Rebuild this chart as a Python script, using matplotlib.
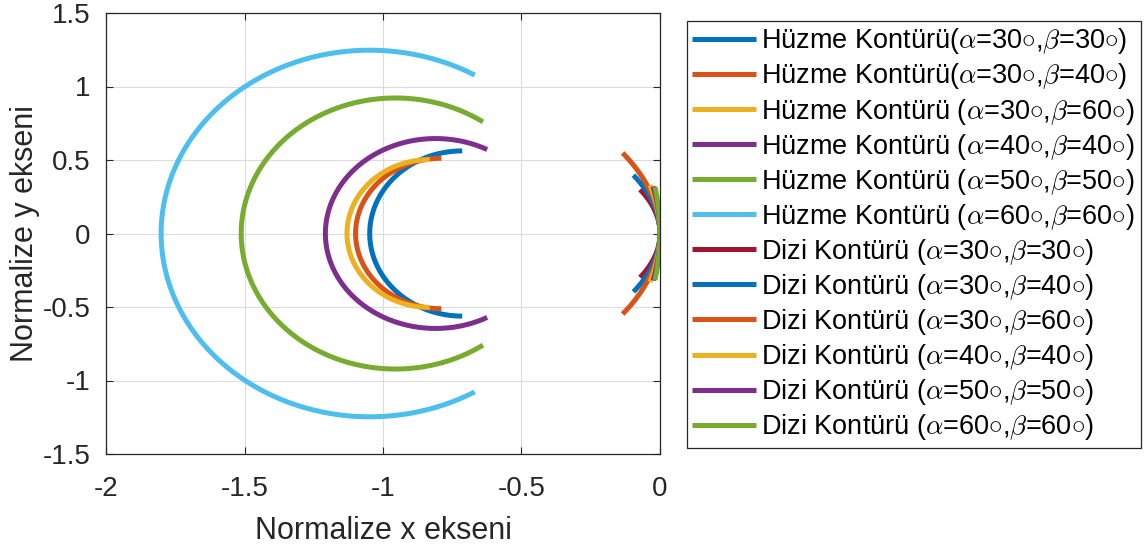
import numpy as np
import matplotlib
matplotlib.use("Agg")
import matplotlib.pyplot as plt

plt.rcParams["font.family"] = ["Liberation Sans", "DejaVu Sans"]
plt.rcParams["mathtext.fontset"] = "cm"
plt.rcParams["axes.unicode_minus"] = False

# beam contours (left half of an ellipse): center x, semi-axes, x where the arc ends
beam_angles = [(30, 30), (30, 40), (30, 60), (40, 40), (50, 50), (60, 60)]
beam_cx = [-0.714, -0.789, -0.831, -0.810, -0.955, -1.048]
beam_a = [0.334, 0.310, 0.299, 0.398, 0.557, 0.753]
beam_b = [0.562, 0.512, 0.503, 0.646, 0.922, 1.247]
beam_xend = [-0.714, -0.789, -0.831, -0.624, -0.639, -0.669]

# array contours (small arcs touching x=0): radius, y where the arc ends
array_angles = [(30, 30), (30, 40), (30, 60), (40, 40), (50, 50), (60, 60)]
array_r = [0.657, 0.869, 1.18, 1.52, 2.06, 2.8]
array_yend = [0.299, 0.397, 0.548, 0.329, 0.320, 0.317]

beam_colors = ["#0072BD", "#D95319", "#EDB120", "#7E2F8E", "#77AC30", "#4DBEEE"]
array_colors = ["#A2142F", "#0072BD", "#D95319", "#EDB120", "#7E2F8E", "#77AC30"]


def ang_text(a, b, gap):
    sep = " (" if gap else "("
    deg = r"${\circ}$"
    return sep + r"$\alpha$=" + f"{a}" + deg + r",$\beta$=" + f"{b}" + deg + ")"


fig = plt.figure(figsize=(11.48, 5.54), dpi=100)
ax = fig.add_axes([106 / 1148, 100 / 554, 554 / 1148, 441 / 554])

for i, (al, be) in enumerate(beam_angles):
    t0 = np.arccos(np.clip((beam_xend[i] - beam_cx[i]) / beam_a[i], -1, 1))
    t = np.linspace(t0, 2 * np.pi - t0, 300)
    ax.plot(beam_cx[i] + beam_a[i] * np.cos(t), beam_b[i] * np.sin(t),
            color=beam_colors[i], lw=3.6, solid_capstyle="butt",
            label="Hüzme Kontürü" + ang_text(al, be, i >= 2))

for i, (al, be) in enumerate(array_angles):
    te = np.arcsin(array_yend[i] / array_r[i])
    t = np.linspace(-te, te, 200)
    ax.plot(-array_r[i] + array_r[i] * np.cos(t), array_r[i] * np.sin(t),
            color=array_colors[i], lw=3.6, solid_capstyle="butt",
            label="Dizi Kontürü" + ang_text(al, be, True))

ax.set_xlim(-2, 0)
ax.set_ylim(-1.5, 1.5)
ax.set_xticks([-2, -1.5, -1, -0.5, 0])
ax.set_xticklabels(["-2", "-1.5", "-1", "-0.5", "0"])
ax.set_yticks([-1.5, -1, -0.5, 0, 0.5, 1, 1.5])
ax.set_yticklabels(["-1.5", "-1", "-0.5", "0", "0.5", "1", "1.5"])
ax.grid(True, color="#dcdcdc", lw=0.8)
ax.set_axisbelow(True)
ax.tick_params(direction="in", length=5, labelsize=20, colors="#262626",
               top=True, right=True)
ax.tick_params(axis="x", pad=16)
ax.tick_params(axis="y", pad=11)
for s in ax.spines.values():
    s.set_color("#262626")
    s.set_linewidth(0.9)

ax.set_xlabel("Normalize x ekseni", fontsize=22, color="#262626", labelpad=10)
ax.set_ylabel("Normalize y ekseni", fontsize=22, color="#262626", labelpad=2)

leg = ax.legend(loc="upper left", bbox_to_anchor=(687 / 1148, 1 - 21 / 554),
                bbox_transform=fig.transFigure, borderaxespad=0, fontsize=19.5,
                handlelength=2.35, handletextpad=0.2, labelspacing=0.187,
                borderpad=0.2, fancybox=False, framealpha=1)
leg.get_frame().set_edgecolor("#262626")
leg.get_frame().set_linewidth(0.9)

fig.savefig("out.png", dpi=100)
